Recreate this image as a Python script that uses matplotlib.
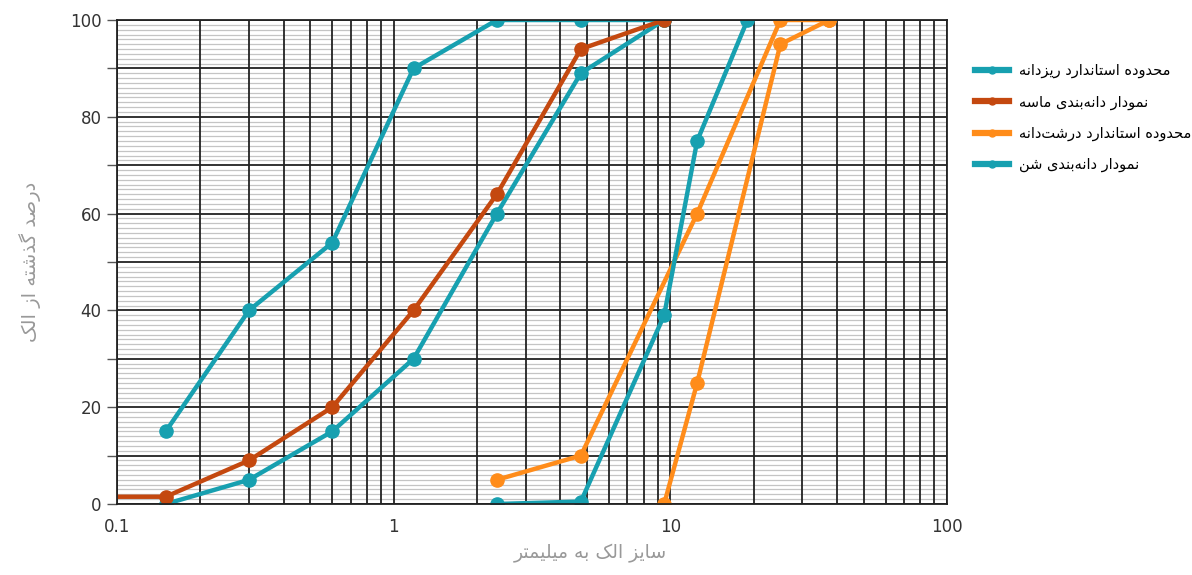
import matplotlib
matplotlib.use("Agg")
import matplotlib.pyplot as plt
from matplotlib.ticker import FixedLocator, LogLocator, FuncFormatter, NullFormatter, NullLocator

# sieve sizes (mm) and percent passing
fine_sizes = [0.15, 0.3, 0.6, 1.18, 2.36, 4.75, 9.5]
fine_upper = [15, 40, 54, 90, 100, 100, 100]
fine_lower = [0, 5, 15, 30, 60, 89, 100]

sand_sizes = [0.075, 0.15, 0.3, 0.6, 1.18, 2.36, 4.75, 9.5]
sand_pass = [1.5, 1.5, 9, 20, 40, 64, 94, 100]

coarse_upper_sizes = [2.36, 4.75, 12.5, 25, 37.5]
coarse_upper = [5, 10, 60, 100, 100]
coarse_lower_sizes = [9.5, 12.5, 25, 37.5]
coarse_lower = [0, 25, 95, 100]

gravel_sizes = [2.36, 4.75, 9.5, 12.5, 19]
gravel_pass = [0, 0.5, 39, 75, 100]

x_ticks = [0.1, 1, 10, 100]
x_labels = ["0.1", "1", "10", "100"]
y_ticks = list(range(0, 101, 10))
y_fine = [v for v in range(1, 100) if v % 10]

labels = ["محدوده استاندارد ریزدانه", "نمودار دانه‌بندی ماسه",
          "محدوده استاندارد درشت‌دانه", "نمودار دانه‌بندی شن"]
xlabel = "سایز الک به میلیمتر"
ylabel = "درصد گذشته از الک"

# --- tiny Persian shaper (no arabic_reshaper available) ---
FORMS = {
    'ا': ('\uFE8D', '\uFE8E'), 'د': ('\uFEA9', '\uFEAA'), 'ذ': ('\uFEAB', '\uFEAC'),
    'ر': ('\uFEAD', '\uFEAE'), 'ز': ('\uFEAF', '\uFEB0'), 'و': ('\uFEED', '\uFEEE'),
    'ب': ('\uFE8F', '\uFE90', '\uFE91', '\uFE92'), 'ت': ('\uFE95', '\uFE96', '\uFE97', '\uFE98'),
    'ح': ('\uFEA1', '\uFEA2', '\uFEA3', '\uFEA4'), 'س': ('\uFEB1', '\uFEB2', '\uFEB3', '\uFEB4'),
    'ش': ('\uFEB5', '\uFEB6', '\uFEB7', '\uFEB8'), 'ص': ('\uFEB9', '\uFEBA', '\uFEBB', '\uFEBC'),
    'ل': ('\uFEDD', '\uFEDE', '\uFEDF', '\uFEE0'), 'م': ('\uFEE1', '\uFEE2', '\uFEE3', '\uFEE4'),
    'ن': ('\uFEE5', '\uFEE6', '\uFEE7', '\uFEE8'), 'ه': ('\uFEE9', '\uFEEA', '\uFEEB', '\uFEEC'),
    '\u06CC': ('\uFBFC', '\uFBFD', '\uFBFE', '\uFBFF'), '\u06A9': ('\uFB8E', '\uFB8F', '\uFB90', '\uFB91'),
    '\u06AF': ('\uFB92', '\uFB93', '\uFB94', '\uFB95'),
}


def fa(s):
    s = s.replace('\u064A', '\u06CC').replace('\u0643', '\u06A9')
    out = []
    for i, c in enumerate(s):
        f = FORMS.get(c)
        if f is None:
            if c != '\u200c':
                out.append(c)
            continue
        prev = s[i - 1] if i > 0 else ''
        nxt = s[i + 1] if i + 1 < len(s) else ''
        jp = prev in FORMS and len(FORMS[prev]) == 4
        jn = len(f) == 4 and nxt in FORMS
        if jp and jn:
            out.append(f[3])
        elif jp:
            out.append(f[1])
        elif jn:
            out.append(f[2])
        else:
            out.append(f[0])
    return ''.join(out)[::-1]


plt.rcParams['font.family'] = ['DejaVu Sans']

teal = '#17A0B0'
brown = '#C4480F'
orange = '#FF8C1A'

fig = plt.figure(figsize=(11.92, 5.75), dpi=100)
ax = fig.add_axes([117 / 1192, 1 - 504 / 575, (947 - 117) / 1192, (504 - 20) / 575])

# light horizontal lines every 1% below the dark grid
ax.hlines(y_fine, 0.1, 100, color='#c4c4c4', lw=0.9, zorder=0.3)

kw = dict(lw=3.2, marker='o', ms=9.5, solid_joinstyle='round')
ax.plot(fine_sizes, fine_upper, color=teal, label=fa(labels[0]), **kw)
ax.plot(fine_sizes, fine_lower, color=teal, **kw)
ax.plot(sand_sizes, sand_pass, color=brown, label=fa(labels[1]), **kw)
ax.plot(coarse_upper_sizes, coarse_upper, color=orange, label=fa(labels[2]), **kw)
ax.plot(coarse_lower_sizes, coarse_lower, color=orange, **kw)
ax.plot(gravel_sizes, gravel_pass, color=teal, label=fa(labels[3]), **kw)

ax.set_xscale('log')
ax.set_xlim(0.1, 100)
ax.set_ylim(0, 100)
ax.xaxis.set_major_locator(FixedLocator(x_ticks))
ax.set_xticklabels(x_labels)
ax.xaxis.set_minor_locator(LogLocator(base=10, subs=range(2, 10)))
ax.xaxis.set_minor_formatter(NullFormatter())
ax.yaxis.set_major_locator(FixedLocator(y_ticks))
ax.yaxis.set_major_formatter(FuncFormatter(lambda v, p: f"{int(v)}" if int(v) % 20 == 0 else ""))
ax.yaxis.set_minor_locator(NullLocator())

ax.set_axisbelow(True)
ax.grid(which='major', axis='both', color='#222222', lw=1.3)
ax.grid(which='minor', axis='x', color='#222222', lw=1.3)

ax.tick_params(axis='x', which='both', length=0, pad=10, labelsize=12, labelcolor='#333333')
ax.tick_params(axis='y', which='major', length=7, width=1, color='#555555', labelsize=12,
               labelcolor='#333333', pad=4)
for sp in ax.spines.values():
    sp.set_color('#222222')
    sp.set_linewidth(1.3)

fig.text(590 / 1192, 1 - 553 / 575, fa(xlabel), ha='center', va='center', fontsize=13.5, color='#999999')
fig.text(30 / 1192, 1 - 262 / 575, fa(ylabel), ha='center', va='center', rotation=90,
         fontsize=14, color='#999999')

leg = fig.legend(loc='upper left', bbox_to_anchor=(962 / 1192, 1 - 50 / 575), frameon=False,
                 fontsize=10.5, handlelength=2.3, labelspacing=1.1, handletextpad=0.7)
for h in leg.legend_handles:
    h.set_linewidth(4.5)
    h.set_markersize(5)

fig.savefig('out.png', dpi=100)
